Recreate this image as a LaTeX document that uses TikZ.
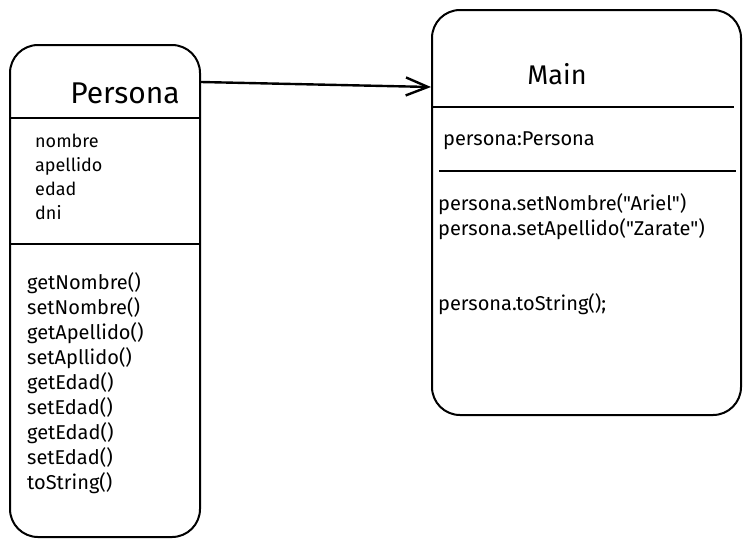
\documentclass[tikz,border=0pt]{standalone}
\usepackage{fontspec}
\setmainfont{Fira Sans}[Ligatures=TeXOff]
\usepackage{tikz}
\usetikzlibrary{arrows.meta,positioning}
\tikzstyle{class box}=[draw,line width=2pt,rounded corners=28pt,inner sep=0pt]
\tikzstyle{rule}=[draw,line width=2.4pt,-]
\tikzstyle{big title}=[font=\fontsize{30}{34}\selectfont,inner sep=0pt]
\tikzstyle{title}=[font=\fontsize{27}{31}\selectfont,inner sep=0pt]
\tikzstyle{field}=[anchor=base west,font=\fontsize{18}{21}\selectfont,inner sep=0pt]
\tikzstyle{member}=[anchor=base west,font=\fontsize{20}{24}\selectfont,inner sep=0pt]
\tikzstyle{edge}=[draw,line width=2.4pt,-{Straight Barb[length=22pt,width=18pt,line width=2.4pt]}]

\begin{document}
\begin{tikzpicture}[x=1pt,y=-1pt]
        \useasboundingbox (0,0) rectangle (751,547);
        % the two classes
        \node[class box,minimum width=190pt,minimum height=492pt] (persona) at (105,291) {};
        \node[class box,minimum width=309pt,minimum height=405pt] (main) at (586.5,212.5) {};
        \draw[rule] ([yshift=-74pt]persona.north west) -- ([yshift=-74pt]persona.north east);
        \draw[rule] ([yshift=-200pt]persona.north west) -- ([xshift=-2pt,yshift=-200pt]persona.north east);
        \draw[rule] ([yshift=-98pt]main.north west) -- ([xshift=-8pt,yshift=-98pt]main.north east);
        \draw[rule] ([xshift=8pt,yshift=-162pt]main.north west) -- ([xshift=-6pt,yshift=-162pt]main.north east);
        % Persona
        \node[big title,anchor=base] (ptitle) at (125,103) {Persona};
        \node[field] (nombre) at (35,147) {nombre};
        \node[field] (apellido) at (35,171) {apellido};
        \node[field] (edad) at (35,195) {edad};
        \node[field] (dni) at (35,219) {dni};
        \node[member] (m1) at (27,289) {getNombre()};
        \node[member] (m2) at (27,314) {setNombre()};
        \node[member] (m3) at (27,339) {getApellido()};
        \node[member] (m4) at (27,364) {setApllido()};
        \node[member] (m5) at (27,389) {getEdad()};
        \node[member] (m6) at (27,414) {setEdad()};
        \node[member] (m7) at (27,439) {getEdad()};
        \node[member] (m8) at (27,464) {setEdad()};
        \node[member] (m9) at (27,489) {toString()};
        % Main
        \node[title,anchor=base] (mtitle) at (557,84) {Main};
        \node[member] (var) at (443,145) {persona:Persona};
        \node[member] (call1) at (438,210) {persona.setNombre("Ariel")};
        \node[member] (call2) at (438,235) {persona.setApellido("Zarate")};
        \node[member] (call3) at (438,310) {persona.toString();};
        % uses
        \draw[edge] ([yshift=-38pt]persona.north east) -- ([yshift=-78pt]main.north west);
\end{tikzpicture}
\end{document}
